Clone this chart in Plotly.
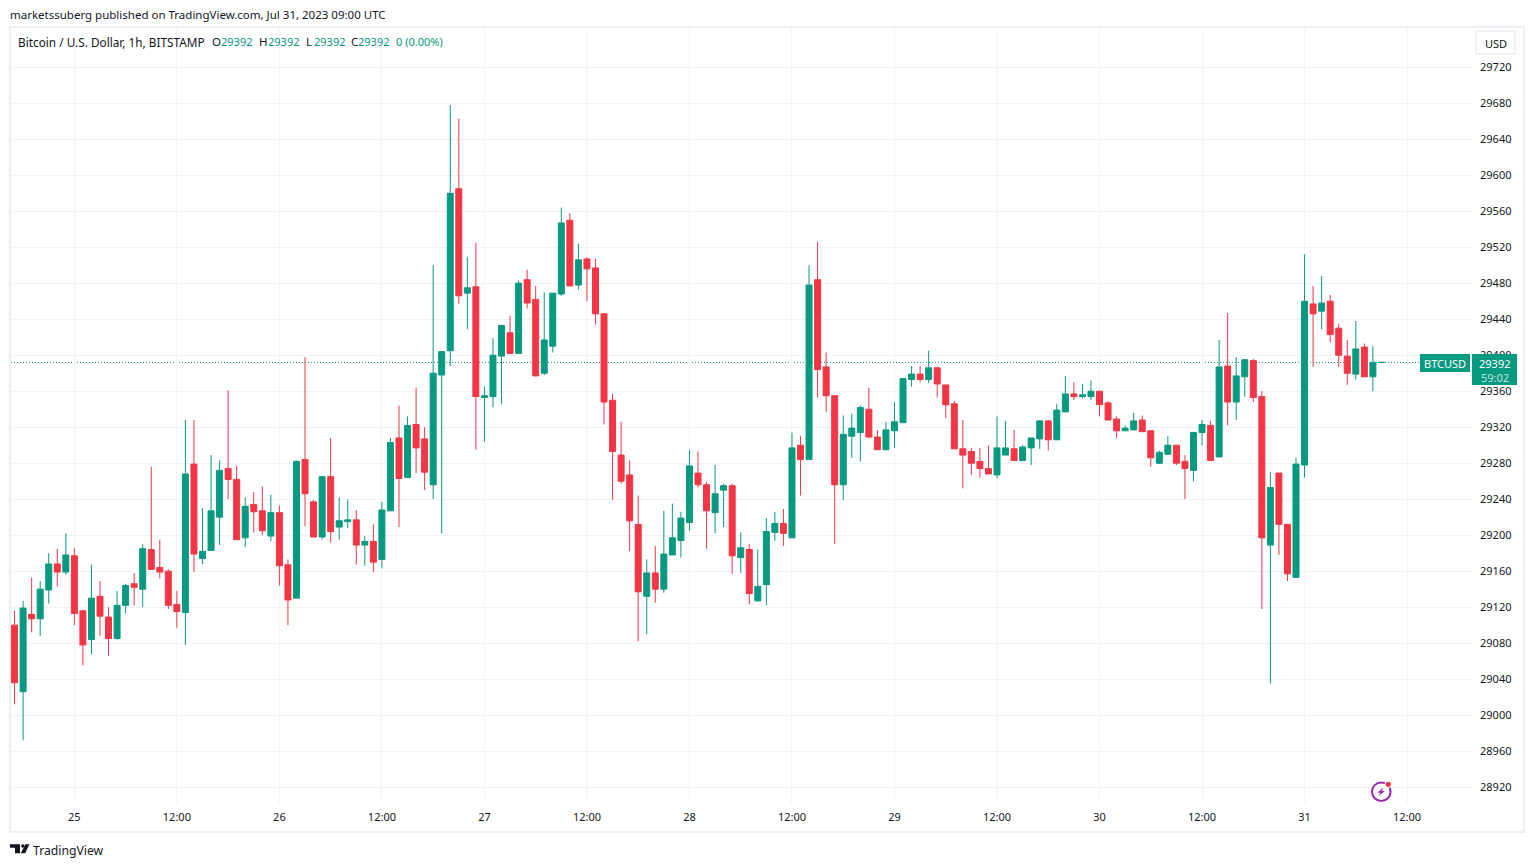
import pandas as pd
import plotly.graph_objects as go

# hourly candles, Jul 24 17:00 to Jul 31 09:00 UTC
first_bar = "2023-07-24 17:00"
opens = [29100,29026,29112,29107,29139,29168,29159,29177,29116,29084,29132,29109,29085,29122,29146,29140,29184,29164,29160,29123,
         29114,29279,29174,29183,29220,29274,29262,29197,29234,29227,29199,29225,29167,29130,29284,29237,29198,29265,29209,29215,
         29217,29189,29193,29173,29227,29308,29264,29323,29307,29256,29378,29405,29585,29469,29476,29353,29354,29399,29425,29402,
         29484,29462,29380,29410,29468,29550,29478,29507,29497,29446,29350,29289,29267,29212,29132,29158,29140,29178,29194,29214,
         29269,29256,29225,29250,29255,29175,29184,29127,29145,29203,29213,29197,29300,29284,29484,29387,29355,29256,29310,29314,
         29340,29309,29295,29316,29325,29373,29379,29373,29386,29367,29346,29296,29293,29282,29274,29267,29289,29296,29283,29297,
         29307,29327,29306,29337,29357,29354,29354,29360,29347,29329,29316,29317,29328,29316,29280,29290,29300,29282,29272,29314,
         29322,29287,29388,29348,29376,29394,29354,29189,29269,29212,29153,29278,29457,29449,29460,29430,29399,29379,29409,29376,
         29392]
highs = [29116,29127,29153,29149,29180,29185,29202,29186,29116,29167,29149,29120,29138,29146,29158,29190,29276,29195,29162,29138,
         29328,29328,29230,29289,29283,29361,29277,29242,29248,29254,29245,29233,29173,29283,29398,29239,29265,29308,29242,29240,
         29228,29199,29212,29237,29308,29344,29332,29364,29320,29500,29404,29678,29663,29509,29525,29365,29419,29434,29444,29483,
         29495,29477,29470,29469,29564,29558,29524,29509,29507,29447,29357,29326,29283,29244,29173,29188,29227,29235,29226,29295,
         29293,29259,29278,29257,29257,29203,29190,29184,29219,29226,29229,29314,29310,29500,29526,29403,29355,29333,29335,29344,
         29364,29317,29326,29348,29374,29388,29388,29405,29387,29367,29349,29328,29297,29297,29300,29332,29327,29317,29300,29308,
         29328,29328,29346,29377,29370,29368,29372,29360,29349,29332,29322,29336,29333,29316,29294,29310,29300,29289,29315,29328,
         29327,29417,29447,29398,29396,29396,29360,29270,29269,29212,29286,29512,29477,29488,29467,29435,29417,29438,29413,29410,
         29392]
lows = [29012,28972,29092,29088,29124,29143,29156,29100,29055,29068,29088,29066,29084,29113,29122,29120,29162,29152,29118,29097,
        29078,29159,29168,29183,29189,29240,29195,29187,29203,29200,29193,29144,29100,29130,29210,29198,29195,29192,29195,29208,
        29167,29166,29159,29163,29227,29209,29264,29269,29250,29240,29202,29388,29457,29429,29295,29304,29342,29346,29402,29402,
        29452,29377,29378,29403,29466,29477,29473,29460,29434,29323,29239,29257,29182,29082,29090,29125,29136,29178,29175,29205,
        29253,29185,29202,29209,29157,29158,29123,29126,29122,29194,29188,29197,29244,29284,29353,29337,29190,29239,29286,29282,
        29309,29295,29295,29297,29325,29365,29370,29369,29353,29330,29296,29252,29267,29264,29268,29263,29289,29283,29283,29278,
        29296,29294,29306,29337,29350,29352,29350,29332,29328,29308,29316,29317,29315,29276,29279,29289,29278,29240,29260,29300,
        29283,29287,29322,29328,29354,29348,29118,29035,29178,29149,29153,29264,29387,29429,29414,29387,29367,29373,29376,29360,
        29392]
closes = [29036,29119,29107,29140,29168,29159,29178,29113,29078,29130,29110,29085,29122,29144,29142,29185,29162,29159,29122,29115,
          29268,29179,29182,29227,29272,29262,29195,29232,29226,29205,29225,29166,29128,29282,29246,29198,29265,29204,29216,29217,
          29189,29193,29170,29228,29303,29263,29322,29297,29270,29380,29404,29580,29466,29475,29354,29355,29400,29433,29402,29480,
          29458,29377,29417,29469,29547,29477,29506,29496,29446,29348,29293,29260,29216,29137,29158,29140,29179,29197,29219,29277,
          29256,29227,29246,29255,29177,29186,29135,29143,29204,29213,29202,29297,29284,29478,29384,29355,29256,29312,29319,29342,
          29309,29295,29317,29326,29374,29379,29373,29386,29368,29345,29296,29289,29280,29274,29268,29297,29297,29283,29298,29308,
          29327,29306,29339,29357,29354,29356,29360,29345,29328,29316,29319,29327,29315,29286,29292,29300,29280,29274,29314,29323,
          29283,29387,29348,29377,29395,29353,29197,29253,29212,29157,29279,29460,29446,29458,29423,29400,29380,29407,29376,29392,
          29392]

last_price = 29392
price_ticks = [28920,28960,29000,29040,29080,29120,29160,29200,29240,29280,29320,29360,29400,29440,29480,29520,29560,29600,29640,29680,29720]
time_ticks = ["2023-07-25 00:00","2023-07-25 12:00","2023-07-26 00:00","2023-07-26 12:00","2023-07-27 00:00","2023-07-27 12:00",
              "2023-07-28 00:00","2023-07-28 12:00","2023-07-29 00:00","2023-07-29 12:00","2023-07-30 00:00","2023-07-30 12:00",
              "2023-07-31 00:00","2023-07-31 12:00"]
time_labels = ["25","12:00","26","12:00","27","12:00","28","12:00","29","12:00","30","12:00","31","12:00"]

W = 1534
H = 867
GREEN = "#089981"
RED = "#f23645"
INK = "#131722"
GRID = "#f2f3f6"
FONT = "Noto Sans"

times = pd.date_range(first_bar, periods=len(opens), freq="h")


#pixel position on the page to paper coordinates
def px(x):
    return x / W


def py(y):
    return 1 - y / H


def poly(points):
    return "M" + " L".join(f"{px(a):.5f},{py(b):.5f}" for a, b in points) + " Z"


def box(x0, y0, x1, y1, fill=None, line=None, width=1, layer="above"):
    return dict(type="rect", xref="paper", yref="paper", x0=px(x0), x1=px(x1), y0=py(y0), y1=py(y1),
                fillcolor=fill, line=dict(color=line, width=width if line else 0), layer=layer)


def disc(cx, cy, r, fill=None, line=None, width=1):
    return dict(type="circle", xref="paper", yref="paper", x0=px(cx - r), x1=px(cx + r), y0=py(cy - r), y1=py(cy + r),
                fillcolor=fill, line=dict(color=line, width=width if line else 0), layer="above")


def label(x, y, text, color=INK, size=11.5, anchor="left"):
    return dict(xref="paper", yref="paper", x=px(x), y=py(y), text=text, showarrow=False, xanchor=anchor, yanchor="middle",
                font=dict(family=FONT, size=size, color=color), borderpad=0, borderwidth=0)


fig = go.Figure(go.Candlestick(
    x=times, open=opens, high=highs, low=lows, close=closes,
    increasing=dict(line=dict(color=GREEN, width=1), fillcolor=GREEN),
    decreasing=dict(line=dict(color=RED, width=1), fillcolor=RED),
    hoverinfo="skip", showlegend=False,
))

shapes = [
    # frame round the chart
    box(10, 27, 1524, 832, line="#eeeff5", width=2),
    # last price line
    dict(type="line", xref="x domain", yref="y", x0=0, x1=1, y0=last_price, y1=last_price,
         line=dict(color=GREEN, width=1, dash="1px,2px"), layer="below"),
    # price tags
    box(1420, 354, 1470, 372, fill=GREEN),
    box(1472, 354, 1517, 385, fill=GREEN),
    # currency button
    box(1476, 31, 1515, 54, fill="white", line="#e0e3eb"),
    # TradingView logo
    dict(type="path", xref="paper", yref="paper", path=poly([(10, 844.3), (20, 844.3), (20, 853.3), (15, 853.3), (15, 847.8), (10, 847.8)]),
         fillcolor=INK, line=dict(width=0)),
    disc(22.8, 846, 1.7, fill=INK),
    dict(type="path", xref="paper", yref="paper", path=poly([(25.4, 844.3), (29.4, 844.3), (25.2, 853.3), (20.8, 853.3)]),
         fillcolor=INK, line=dict(width=0)),
    # bolt icon
    disc(1381.3, 791.7, 9.3, fill="white", line="#9c27b0", width=2),
    dict(type="path", xref="paper", yref="paper",
         path=poly([(1383.2, 787.2), (1377.6, 792.8), (1380.6, 792.8), (1378.6, 796.2), (1385, 791), (1381.8, 791)]),
         fillcolor="#9c27b0", line=dict(width=0)),
    disc(1388.3, 784.3, 3.6, fill="white"),
    disc(1388.3, 784.3, 2.6, fill=RED),
]

annotations = [
    label(10, 14.5, "marketssuberg published on TradingView.com, Jul 31, 2023 09:00 UTC"),
    label(18, 42, "Bitcoin / U.S. Dollar, 1h, BITSTAMP", size=11.8),
    label(212, 42, "O"), label(221, 42, str(opens[-1]), GREEN, 11),
    label(259, 42, "H"), label(268, 42, str(highs[-1]), GREEN, 11),
    label(306, 42, "L"), label(314, 42, str(lows[-1]), GREEN, 11),
    label(351, 42, "C"), label(358, 42, str(closes[-1]), GREEN, 11),
    label(396, 42, "0 (0.00%)", GREEN, 11),
    label(1495.5, 43, "USD", size=11, anchor="center"),
    label(1445, 363, "BTCUSD", "white", 11, anchor="center"),
    label(1494.5, 363, str(last_price), "white", 11, anchor="center"),
    label(1494.5, 377, "59:02", "rgba(255,255,255,0.75)", 11, anchor="center"),
    label(33, 850, "TradingView", size=12.2),
]

fig.update_layout(
    width=W, height=H,
    margin=dict(l=0, r=0, t=0, b=0),
    paper_bgcolor="white", plot_bgcolor="white",
    showlegend=False,
    boxgroupgap=0,
    shapes=shapes, annotations=annotations,
    font=dict(family=FONT, size=11, color=INK),
    xaxis=dict(
        domain=[px(11), px(1472)],
        range=["2023-07-24 16:35", "2023-07-31 19:36"],
        rangeslider=dict(visible=False),
        tickmode="array", tickvals=time_ticks, ticktext=time_labels, tickangle=0,
        showgrid=True, gridcolor=GRID, gridwidth=1, zeroline=False, showline=False,
        ticks="", ticklabelstandoff=6, tickfont=dict(family=FONT, size=11, color=INK),
    ),
    yaxis=dict(
        domain=[py(803), py(28)],
        range=[28902.3, 29763.7],
        side="right",
        tickmode="array", tickvals=price_ticks, ticktext=[str(v) for v in price_ticks],
        showgrid=True, gridcolor=GRID, gridwidth=1, zeroline=False, showline=False,
        ticks="", ticklabelstandoff=7, tickfont=dict(family=FONT, size=11, color=INK),
    ),
)

fig.write_html("out.html", config=dict(displayModeBar=False),
               post_script="document.body.style.margin='0';document.body.style.overflow='hidden';")
